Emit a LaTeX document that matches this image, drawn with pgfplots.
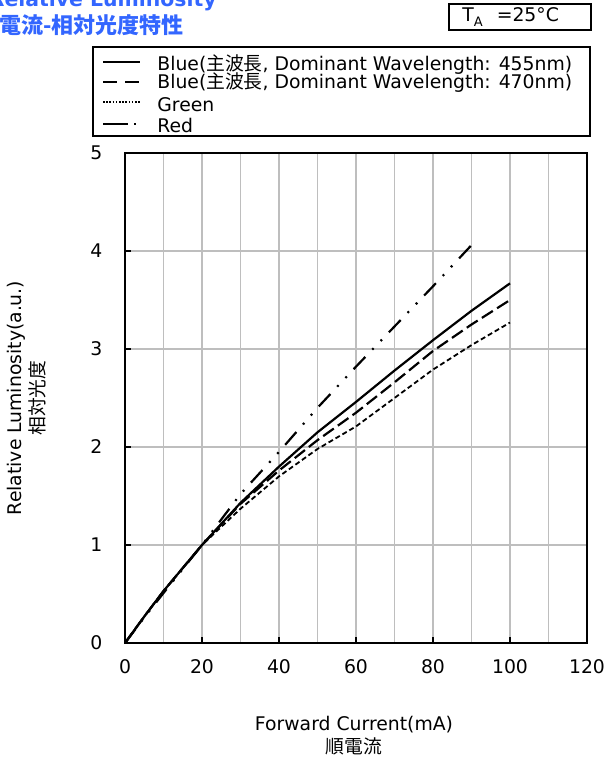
\documentclass[border=0pt]{standalone}
\usepackage{fontspec}
\setmainfont{DejaVu Sans}
\newfontfamily\cjk{Noto Sans CJK JP}
\usepackage{pgfplots}
\pgfplotsset{compat=1.18}
\definecolor{titleblue}{RGB}{51,102,255}
\definecolor{gridgray}{RGB}{190,190,190}

\pgfplotstableread{
x    b455  b470  green
0    0     0     0
5    0.27  0.27  0.27
10   0.53  0.53  0.53
20   1.00  1.00  1.00
30   1.43  1.42  1.37
40   1.80  1.76  1.70
50   2.15  2.07  1.98
60   2.46  2.35  2.21
70   2.78  2.66  2.50
80   3.09  2.98  2.79
90   3.39  3.25  3.04
100  3.67  3.50  3.27
}\bluegreen
\pgfplotstableread{
x    red
0    0
5    0.26
10   0.51
20   1.00
30   1.52
40   1.95
50   2.40
60   2.82
70   3.23
80   3.64
90   4.06
}\redtab

\begin{document}
\fontsize{9.4}{11.5}\selectfont
\begin{tikzpicture}[x=0.5pt,y=-0.5pt]
\useasboundingbox (0,0) rectangle (606,760);
% title (partly cut off, as in the reference)
\node[anchor=base east, inner sep=0, text=titleblue, font=\fontsize{10.2}{12}\selectfont\bfseries] at (217,6) {Relative Luminosity};
\node[anchor=base east, inner sep=0, text=titleblue, font=\fontsize{11}{13}\selectfont\cjk\bfseries] at (184,33) {順電流-相対光度特性};
% T_A box
\draw[line width=0.6pt] (449,4) rectangle (591,30);
\node[anchor=west, inner sep=0] at (462,17) {T\raisebox{-0.5ex}{\fontsize{6.5}{7}\selectfont A}\hspace{7pt}=25°C};
% legend
\draw[line width=0.6pt] (93,47) rectangle (590,136);
\draw[line width=1.1pt] (103,62)--(140,62);
\draw[line width=1.1pt, dash pattern=on 7pt off 4pt] (103,82)--(140,82);
\draw[line width=0.8pt, dash pattern=on 0.8pt off 0.8pt] (103,102)--(140,102);
\draw[line width=1.1pt] (103,124)--(128,124);
\draw[line width=1.1pt] (134,124)--(136,124);
\node[anchor=west, inner sep=0] at (157,65) {Blue({\cjk 主波長}, Dominant Wavelength: 455nm)};
\node[anchor=west, inner sep=0] at (157,83) {Blue({\cjk 主波長}, Dominant Wavelength: 470nm)};
\node[anchor=west, inner sep=0] at (157,105) {Green};
\node[anchor=west, inner sep=0] at (157,125) {Red};
% axis labels
\node[align=center, rotate=90, inner sep=0] at (27,398) {Relative Luminosity(a.u.)\\{\cjk 相対光度}};
\node[align=center, inner sep=0] at (354,736) {Forward Current(mA)\\{\cjk 順電流}};
\begin{axis}[
  at={(62.5pt,-321.5pt)}, anchor=south west,
  scale only axis, width=231pt, height=245pt,
  xmin=0, xmax=120, ymin=0, ymax=5,
  xtick={0,20,...,120}, minor xtick={10,30,...,110},
  ytick={0,1,...,5},
  xtick pos=left, ytick pos=left,
  grid=both,
  major grid style={gridgray, line width=0.55pt},
  minor grid style={gridgray, line width=0.55pt},
  tick align=inside, major tick length=3pt, minor tick length=0pt,
  tick style={black, line width=0.6pt},
  axis line style={line width=1.2pt},
  /pgf/number format/assume math mode=true,
  ticklabel style={font=\fontsize{9.4}{11.5}\selectfont},
  xticklabel style={yshift=-5pt},
  yticklabel style={xshift=-8pt},
]
\addplot[black, line width=1.1pt] table[x=x, y=b455] {\bluegreen};
\addplot[black, line width=1.1pt, dash pattern=on 6.5pt off 2.5pt] table[x=x, y=b470] {\bluegreen};
\addplot[black, line width=0.9pt, dash pattern=on 2.5pt off 1.5pt] table[x=x, y=green] {\bluegreen};
\addplot[black, line width=1.1pt, dash pattern=on 8.5pt off 5pt on 1pt off 5pt on 1pt off 5pt] table[x=x, y=red] {\redtab};
\end{axis}
\end{tikzpicture}
\end{document}
